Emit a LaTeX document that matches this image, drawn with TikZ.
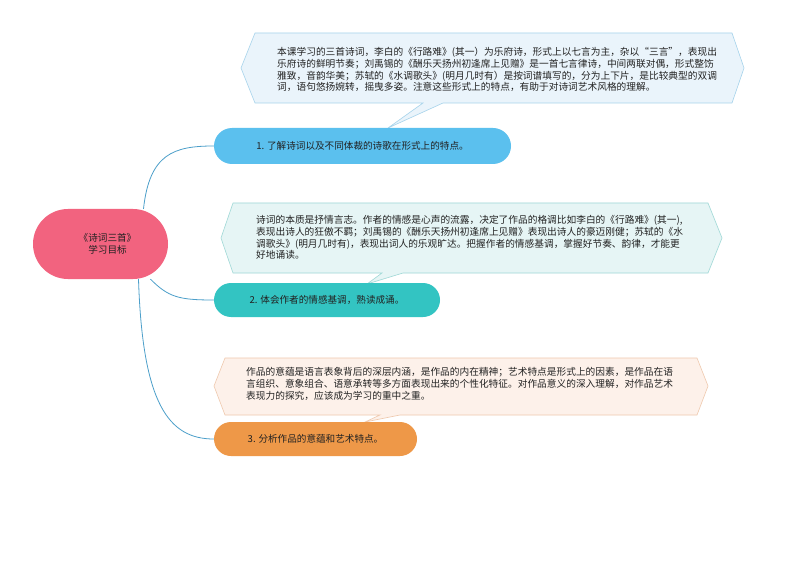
\documentclass[tikz,border=0pt]{standalone}
\usepackage{fontspec}
\setmainfont{Noto Sans CJK SC}
\usetikzlibrary{calc}
\definecolor{rootc}{HTML}{F2637F}
\definecolor{bluec}{HTML}{5BC0EE}
\definecolor{tealc}{HTML}{33C4C2}
\definecolor{orangec}{HTML}{EE9848}
\definecolor{linec}{HTML}{4C9FCA}
\definecolor{c1fill}{HTML}{EAF4FB}
\definecolor{c1line}{HTML}{A6D3EB}
\definecolor{c2fill}{HTML}{E6F5F5}
\definecolor{c2line}{HTML}{9FD8D6}
\definecolor{c3fill}{HTML}{FDF1EA}
\definecolor{c3line}{HTML}{EFC9AE}
\definecolor{txt}{HTML}{222222}
\begin{document}
\begin{tikzpicture}[x=1pt,y=-1pt,
  pill/.style={draw=none, inner sep=0pt, text=txt, font=\fontsize{9.6}{11.8}\selectfont},
  ctext/.style={anchor=north west, inner sep=0pt, align=left, text=txt, font=\fontsize{9.7}{11.8}\selectfont},
  conn/.style={draw=linec, line width=0.8pt},
  callout/.style={line width=0.6pt, line join=miter}]
\useasboundingbox[fill=white] (0,0) rectangle (794,561);

% callouts
\draw[callout, fill=c1fill, draw=c1line] (255,33) -- (732,33) -- (744,68) -- (732,103) -- (443,103) -- (388,128) -- (423,103) -- (255,103) -- (241,68) -- cycle;
\node[ctext] (t1) at (277,47) {本课学习的三首诗词，李白的《行路难》(其一）为乐府诗，形式上以七言为主，杂以“三言”，表现出\\乐府诗的鲜明节奏；刘禹锡的《酬乐天扬州初逢席上见赠》是一首七言律诗，中间两联对偶，形式整饬\\雅致，音韵华美；苏轼的《水调歌头》(明月几时有）是按词谱填写的，分为上下片，是比较典型的双调\\词，语句悠扬婉转，摇曳多姿。注意这些形式上的特点，有助于对诗词艺术风格的理解。};

\draw[callout, fill=c2fill, draw=c2line] (233,203) -- (708,203) -- (722,238) -- (708,273) -- (403,273) -- (367,284) -- (382,273) -- (233,273) -- (221,238) -- cycle;
\node[ctext] (t2) at (256,215) {诗词的本质是抒情言志。作者的情感是心声的流露，决定了作品的格调比如李白的《行路难》(其一),\\表现出诗人的狂傲不羁；刘禹锡的《酬乐天扬州初逢席上见赠》表现出诗人的豪迈刚健；苏轼的《水\\调歌头》(明月几时有)，表现出词人的乐观旷达。把握作者的情感基调，掌握好节奏、韵律，才能更\\好地诵读。};

\draw[callout, fill=c3fill, draw=c3line] (225,358) -- (697,358) -- (708,386) -- (697,415) -- (400,415) -- (365,422) -- (380,415) -- (225,415) -- (214,386) -- cycle;
\node[ctext] (t3) at (246,367) {作品的意蕴是语言表象背后的深层内涵，是作品的内在精神；艺术特点是形式上的因素，是作品在语\\言组织、意象组合、语意承转等多方面表现出来的个性化特征。对作品意义的深入理解，对作品艺术\\表现力的探究，应该成为学习的重中之重。};

% root and branches
\node[pill, fill=rootc, minimum width=135pt, minimum height=70pt, rounded corners=35pt, align=center] (root) at (100.5,244) {\hspace*{14pt}《诗词三首》\\\hspace*{14pt}学习目标};
\node[pill, fill=bluec, minimum width=297pt, minimum height=36pt, rounded corners=18pt] (b1) at (362.5,146) {1. 了解诗词以及不同体裁的诗歌在形式上的特点。};
\node[pill, fill=tealc, minimum width=226pt, minimum height=34pt, rounded corners=17pt] (b2) at (327,300) {2. 体会作者的情感基调，熟读成诵。};
\node[pill, fill=orangec, minimum width=203pt, minimum height=34pt, rounded corners=17pt] (b3) at (315.5,439) {3. 分析作品的意蕴和艺术特点。};

% connectors
\draw[conn] ([xshift=43pt]root.north) .. controls +(6,-55) and +(-40,0) .. (b1.west);
\draw[conn] ([xshift=50pt]root.south) .. controls +(18,18) and +(-35,0) .. (b2.west);
\draw[conn] ([xshift=38pt]root.south) .. controls +(4,125) and +(-45,0) .. (b3.west);
\end{tikzpicture}
\end{document}
